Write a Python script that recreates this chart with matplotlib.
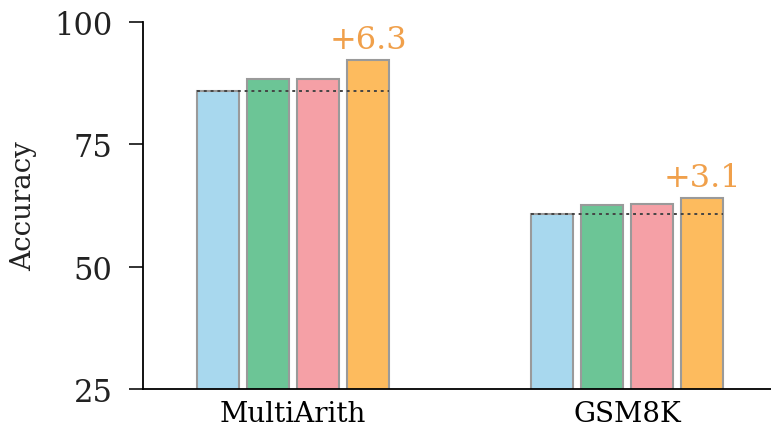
import matplotlib
matplotlib.use("Agg")
import matplotlib.pyplot as plt
import numpy as np

plt.rcParams['font.family'] = ['DejaVu Serif']

categories = ["MultiArith", "GSM8K"]
series_values = [
    [85.9, 60.7],
    [88.3, 62.6],
    [88.3, 62.8],
    [92.2, 64.0],
]
gains = ["+6.3", "+3.1"]
colors = ["#A8D8EE", "#6CC596", "#F5A0A6", "#FDBB5E"]
yticks = [25, 50, 75, 100]

fig = plt.figure(figsize=(7.71, 4.31), dpi=100)
ax = fig.add_axes([0.1855, 0.095, 0.8145, 0.852])

x = np.arange(len(categories))
width = 0.126
step = 0.15
n = len(series_values)
for i, vals in enumerate(series_values):
    offs = (i - (n - 1) / 2) * step
    ax.bar(x + offs, vals, width, color=colors[i], edgecolor="#9a9a9a",
           linewidth=1.5, bottom=0, zorder=2)

for j in range(len(categories)):
    left = x[j] - (n - 1) / 2 * step - width / 2
    right = x[j] + (n - 1) / 2 * step + width / 2
    base = series_values[0][j]
    ax.plot([left, right], [base, base], linestyle=(0, (1.5, 2)), color="#444444",
            linewidth=1.4, zorder=3)
    top = series_values[-1][j]
    ax.text(x[j] + (n - 1) / 2 * step, top + 1.0, gains[j], color="#F0A04B",
            fontsize=23, ha="center", va="bottom")

ax.set_ylim(25, 100)
ax.set_xlim(-0.449, 1.431)
ax.set_yticks(yticks)
ax.set_xticks(x)
ax.set_xticklabels(categories, fontsize=20)
ax.tick_params(axis="x", length=0, pad=8)
ax.tick_params(axis="y", labelsize=22, length=10, width=1.3, pad=12, colors="#222222")
ax.set_ylabel("Accuracy", fontsize=20, labelpad=12, color="#222222")
ax.spines["top"].set_visible(False)
ax.spines["right"].set_visible(False)
ax.spines["left"].set_linewidth(1.3)
ax.spines["bottom"].set_linewidth(1.3)

fig.savefig("out.png", dpi=100)
